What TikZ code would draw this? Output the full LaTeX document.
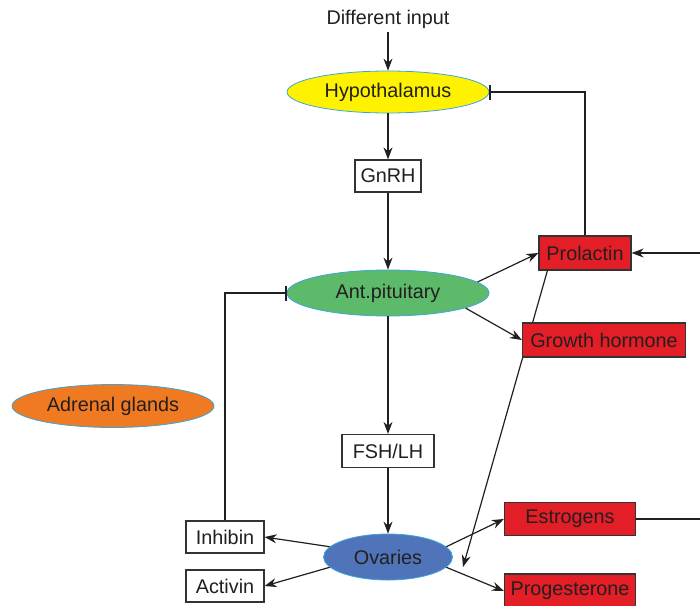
\documentclass[tikz,border=0pt]{standalone}
\usepackage{fontspec}
\setmainfont{Liberation Sans}
\usetikzlibrary{shapes.geometric,arrows.meta,calc}
\definecolor{txt}{HTML}{231F20}
\definecolor{glandline}{HTML}{3AA6DD}
\definecolor{boxline}{HTML}{333333}
\definecolor{hypyellow}{HTML}{FFF200}
\definecolor{antgreen}{HTML}{5DBA6B}
\definecolor{ovablue}{HTML}{4F74BA}
\definecolor{adrorange}{HTML}{F07A22}
\definecolor{hormred}{HTML}{E41E26}

\begin{document}
\begin{tikzpicture}[x=1pt,y=-1pt,
    every node/.style={font=\fontsize{19.8}{23}\selectfont,text=txt},
    gland/.style={ellipse,draw=glandline,line width=0.8pt,minimum width=202pt,minimum height=42pt,inner sep=0pt},
    hormone/.style={rectangle,draw=boxline,line width=1.2pt,fill=hormred,minimum height=34pt,inner sep=2pt},
    signal/.style={rectangle,draw=boxline,line width=1.2pt,fill=white,minimum height=32pt,inner sep=2pt},
    link/.style={draw=txt,line width=1.2pt,-{Stealth[length=12pt,width=9pt]}},
    block/.style={draw=txt,line width=1.2pt,-{Bar[width=15pt]}}]
    \clip (0,0) rectangle (700,605);

    % glands
    \node (inp) at (388,19) {Different input};
    \node[gland,fill=hypyellow] (hyp) at (388,92) {Hypothalamus};
    \node[gland,fill=antgreen,minimum height=46pt] (ant) at (388,293) {Ant.pituitary};
    \node[gland,fill=ovablue,minimum width=129pt,minimum height=46pt] (ova) at (388,557) {Ovaries};
    \node[gland,fill=adrorange,minimum height=43pt] (adr) at (113,406) {Adrenal glands};

    % releasing and pituitary hormones
    \node[signal,minimum width=66pt] (gnrh) at (388,176) {GnRH};
    \node[signal,minimum width=92pt,minimum height=33pt] (fsh) at (388,451) {FSH/LH};
    \node[hormone,minimum width=92pt] (prl) at (585,253) {Prolactin};

    % prolactin acts on the ovaries (runs behind growth hormone)
    \coordinate (prlend) at (463,567);
    \draw[link] ($(prl.south west)+(9,0)$) -- (prlend);

    \node[hormone,minimum width=163pt] (gh) at (604,340) {Growth hormone};

    % ovarian products
    \node[hormone,minimum width=131pt,minimum height=33pt] (est) at (570,519) {Estrogens};
    \node[hormone,minimum width=131pt] (prg) at (570,591) {Progesterone};
    \node[signal,minimum width=78pt] (inh) at (225,537) {Inhibin};
    \node[signal,minimum width=78pt] (act) at (225,586) {Activin};

    % main axis
    \draw[link] (inp) -- (hyp);
    \draw[link] (hyp) -- (gnrh);
    \draw[link] (gnrh) -- (ant);
    \draw[link] (ant) -- (fsh);
    \draw[link] (fsh) -- (ova);

    \draw[link] (ant.7) -- (prl.west);
    \draw[link] (ant.-11) -- (gh.west);

    \draw[link] (ova.10) -- (est.west);
    \draw[link] (ova.-10) -- (prg.west);
    \draw[link] (ova.170) -- (inh.east);
    \draw[link] (ova.190) -- (act.east);

    % feedback
    \draw[block] (prl.north) |- (hyp.east);
    \draw[block] (inh.north) |- (ant.west);
    \draw[link] (est.east) -- (712,519) -- (712,253) -- (prl.east);
\end{tikzpicture}
\end{document}
